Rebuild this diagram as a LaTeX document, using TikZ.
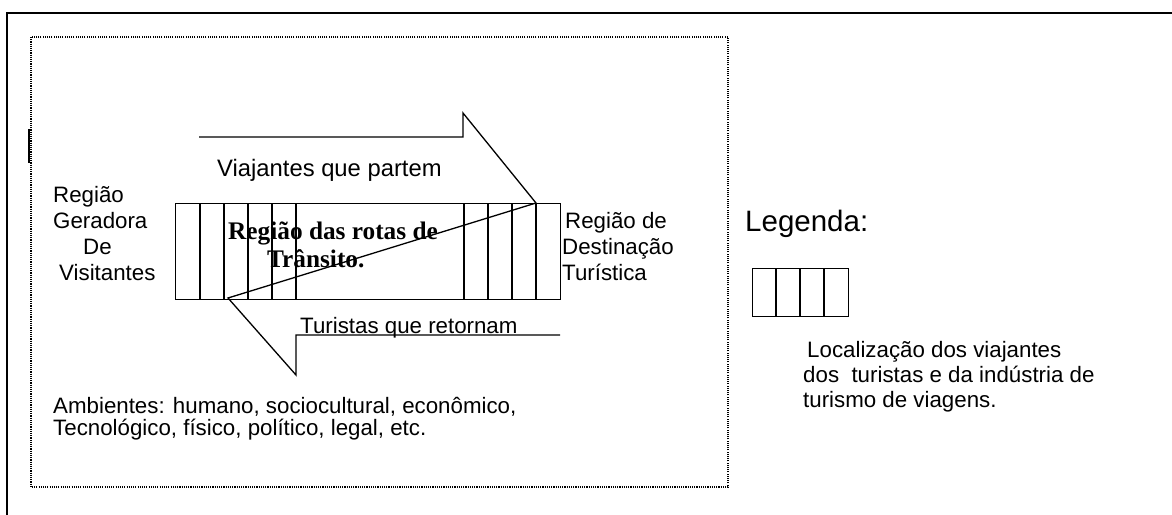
\documentclass[tikz,border=0pt]{standalone}
\usepackage{fontspec}
\setmainfont{Liberation Sans}
\newfontfamily\serifbold{Liberation Serif}
\begin{document}
\begin{tikzpicture}[x=1pt,y=-1pt,
  txt/.style={anchor=base west, inner sep=0pt, font=\fontsize{22.3}{26}\selectfont},
  midtxt/.style={anchor=base west, inner sep=0pt, font=\fontsize{23.8}{28}\selectfont},
  bigtxt/.style={anchor=base west, inner sep=0pt, font=\fontsize{29.5}{34}\selectfont},
  boldtxt/.style={anchor=base west, inner sep=0pt, font=\serifbold\bfseries\fontsize{25.3}{28}\selectfont},
  ln/.style={line width=1.3pt, line join=miter},
  frame/.style={line width=2pt},
  dotbox/.style={line width=1.3pt, dash pattern=on 1.1pt off 1.1pt},
  cellbox/.style={draw, ln, inner sep=0pt, anchor=north west}]
\useasboundingbox (0,0) rectangle (1172,514);
% outer frame (clipped by page)
\draw[frame] (7,516) -- (7,13) -- (1174,13);
% dotted environment box
\draw[dotbox] (31,37) rectangle (728,487);
% small mark
\draw[line width=1.6pt] (29,129) -- (29,163);
% transit route rectangle
\node[cellbox, minimum width=385pt, minimum height=96pt] (route) at (175,203) {};
\foreach \x in {200,224,248,272,296,464,488,512,536}
  \draw[ln] (\x,203) -- (\x,299);
% arrows outline
\coordinate (a1) at (199,137);
\coordinate (a2) at (463,137);
\coordinate (a3) at (463,113);
\coordinate (tip) at (536,203);
\coordinate (c) at (228,298);
\coordinate (r1) at (296,375);
\coordinate (r2) at (296,335);
\coordinate (r3) at (560,335);
\draw[ln] (a1) -- (a2) -- (a3) -- (tip) -- (c) -- (r1) -- (r2) -- (r3);
% texts
\node[midtxt] (vp) at (217,176) {Viajantes que partem};
\node[txt] (tr) at (300,333) {Turistas que retornam};
\node[txt] (g1) at (53,202) {Região};
\node[txt] (g2) at (53,228) {Geradora};
\node[txt] (g3) at (83,254) {De};
\node[txt] (g4) at (59,280) {Visitantes};
\node[txt] (d1) at (565,228) {Região de};
\node[txt] (d2) at (562,254) {Destinação};
\node[txt] (d3) at (562,280) {Turística};
\node[boldtxt] (b1) at (228,239) {Região das rotas de};
\node[boldtxt] (b2) at (267,267) {Trânsito.};
\node[txt] (e1) at (53,413) {Ambientes: humano, sociocultural, econômico,};
\node[txt] (e2) at (53,435) {Tecnológico, físico, político, legal, etc.};
% legend
\node[bigtxt] (leg) at (745,231) {Legenda:};
\node[cellbox, minimum width=96pt, minimum height=48pt] (legbox) at (752,268) {};
\foreach \x in {776,800,824}
  \draw[ln] (\x,268) -- (\x,316);
\node[txt] (l1) at (807,357) {Localização dos viajantes};
\node[txt] (l2) at (803,382) {dos\ \ turistas e da indústria de};
\node[txt] (l3) at (803,407) {turismo de viagens.};
\end{tikzpicture}
\end{document}
